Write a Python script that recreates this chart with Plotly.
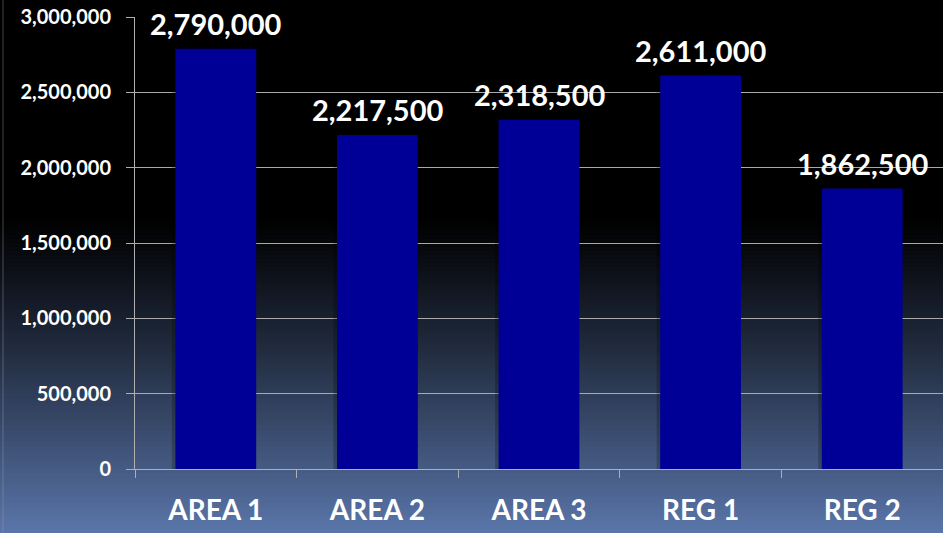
import plotly.graph_objects as go

# Chart data
categories = ["AREA 1", "AREA 2", "AREA 3", "REG 1", "REG 2"]
values = [2790000, 2217500, 2318500, 2611000, 1862500]
y_tick_values = [0, 500000, 1000000, 1500000, 2000000, 2500000, 3000000]
y_tick_labels = ["0", "500,000", "1,000,000", "1,500,000", "2,000,000", "2,500,000", "3,000,000"]

W, H = 943, 533
M_L, M_R, M_T, M_B = 135, 0, 17, 64
PW = W - M_L - M_R
PH = H - M_T - M_B

FONT = "Lato"
BAR_COLOR = "#000096"


def px_to_paper_x(px):
    return (px - M_L) / PW


def px_to_paper_y(py):
    return (H - M_B - py) / PH


# Vertical background gradient: black at top, fading into slate blue at the bottom
shapes = []
g_start, g_end = 215, H
top_rgb = (0, 0, 0)
bot_rgb = (90, 118, 170)
n_strips = 80
step = (g_end - g_start) / n_strips
shapes.append(dict(
    type="rect", xref="paper", yref="paper", layer="below",
    x0=px_to_paper_x(-2), x1=px_to_paper_x(W + 2),
    y0=px_to_paper_y(g_start), y1=px_to_paper_y(-2),
    fillcolor="black", line=dict(width=0),
))
for i in range(n_strips):
    t = (i + 0.5) / n_strips
    t = t ** 1.15
    c = tuple(round(a + (b - a) * t) for a, b in zip(top_rgb, bot_rgb))
    y_top = g_start + i * step
    y_bot = y_top + step + 0.8
    shapes.append(dict(
        type="rect", xref="paper", yref="paper", layer="below",
        x0=px_to_paper_x(-2), x1=px_to_paper_x(W + 2),
        y0=px_to_paper_y(y_bot), y1=px_to_paper_y(y_top),
        fillcolor=f"rgb{c}", line=dict(width=0),
    ))

# faint frame edge on the left
shapes.append(dict(
    type="line", xref="paper", yref="paper", layer="below",
    x0=px_to_paper_x(3), x1=px_to_paper_x(3),
    y0=px_to_paper_y(H), y1=px_to_paper_y(0),
    line=dict(color="rgba(150,150,170,0.45)", width=1),
))

fig = go.Figure()

# soft shadow on the left of each bar
fig.add_trace(go.Bar(
    x=categories, y=values, width=0.5, offset=-0.272,
    marker=dict(color="rgba(0,0,0,0.22)", line=dict(width=0)),
    hoverinfo="skip", showlegend=False,
))

fig.add_trace(go.Bar(
    x=categories, y=values, width=0.5, offset=-0.25,
    marker=dict(color=BAR_COLOR, line=dict(width=0)),
    cliponaxis=False,
    showlegend=False,
))

# value labels above each bar
annotations = [
    dict(
        x=cat, y=val, xref="x", yref="y",
        text=f"{val:,}", showarrow=False,
        yanchor="middle", yshift=25,
        font=dict(family=FONT, size=29, color="white", weight="bold"),
    )
    for cat, val in zip(categories, values)
]

fig.update_layout(
    width=W, height=H,
    margin=dict(l=M_L, r=M_R, t=M_T, b=M_B, pad=0),
    paper_bgcolor="black",
    plot_bgcolor="rgba(0,0,0,0)",
    barmode="overlay",
    bargap=0.5,
    shapes=shapes,
    annotations=annotations,
    showlegend=False,
    font=dict(family=FONT, color="white"),
)

fig.update_xaxes(
    showgrid=False,
    showline=True, linecolor="rgb(175,175,175)", linewidth=1,
    ticks="outside", tickson="boundaries", ticklen=8, tickcolor="rgb(175,175,175)",
    tickfont=dict(family=FONT, size=28, color="white", weight="bold"),
    ticklabelstandoff=16,
    range=[-0.5, 4.5],
    zeroline=False,
)

fig.update_yaxes(
    range=[0, 3000000],
    tickvals=y_tick_values, ticktext=y_tick_labels,
    showgrid=True, gridcolor="rgb(170,170,170)", gridwidth=1,
    showline=True, linecolor="rgb(175,175,175)", linewidth=1,
    ticks="outside", ticklen=8, tickcolor="rgb(175,175,175)",
    tickfont=dict(family=FONT, size=20, color="white", weight="bold"),
    ticklabelstandoff=11,
    zeroline=False,
)

fig.write_html("out.html")
